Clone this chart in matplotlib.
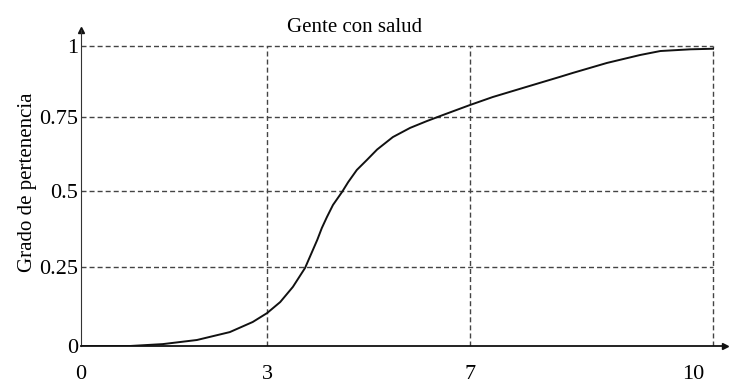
import numpy as np
import matplotlib.pyplot as plt
from matplotlib.transforms import ScaledTranslation

plt.rcParams['font.family'] = ['Liberation Serif', 'DejaVu Serif']

# curve (y = membership grade)
x_vals = [0.0, 0.79, 1.32, 1.87, 2.40, 2.77, 3.0, 3.26, 3.51, 3.75, 3.99,
          4.08, 4.18, 4.30, 4.48, 4.60, 4.77, 4.97, 5.17, 5.48, 5.82, 6.15,
          6.47, 7.0, 7.28, 7.70, 8.11, 8.27, 8.69, 9.10, 9.35, 9.72, 10.0]
y_vals = [0.0, 0.0, 0.006, 0.019, 0.044, 0.076, 0.104, 0.139, 0.187, 0.247,
          0.339, 0.378, 0.414, 0.454, 0.497, 0.530, 0.571, 0.605, 0.640,
          0.682, 0.713, 0.736, 0.757, 0.792, 0.820, 0.856, 0.891, 0.905,
          0.940, 0.968, 0.982, 0.988, 0.99]

x_ticks = [0, 3, 7, 10]
y_ticks = [0, 0.25, 0.5, 0.75, 1]
y_tick_labels = ['0', '0.25', '0.5', '0.75', '1']

# the drawing is not to scale: piecewise-linear axes
xk_val = [-5, 0, 3, 7, 10, 15]
xk_pos = [-310, 0, 186, 389, 632, 1037]
yk_val = [-1, 0, 0.25, 0.5, 0.75, 1, 2]
yk_pos = [-316, 0, 79, 155, 229, 300, 584]


def fx(v):
    return np.interp(v, xk_val, xk_pos)


def fx_inv(p):
    return np.interp(p, xk_pos, xk_val)


def fy(v):
    return np.interp(v, yk_val, yk_pos)


def fy_inv(p):
    return np.interp(p, yk_pos, yk_val)


fig = plt.figure(figsize=(7.37, 3.89), dpi=100)
ax = fig.add_axes([81 / 737, 43 / 389, 644 / 737, 316 / 389])
ax.set_xscale('function', functions=(fx, fx_inv))
ax.set_yscale('function', functions=(fy, fy_inv))
ax.set_xlim(0, 10.148)
ax.set_ylim(0, 1.056)

# dashed guide lines
grid_kw = dict(color='#444444', lw=1.0, dashes=(3.6, 2.2))
for xv in x_ticks[1:]:
    ax.plot([xv, xv], [0, 1], **grid_kw)
for yv in y_ticks[1:]:
    ax.plot([0, 10], [yv, yv], **grid_kw)

ax.plot(x_vals, y_vals, color='#111111', lw=1.4, solid_joinstyle='round')

# axes with arrows
for s in ['top', 'right']:
    ax.spines[s].set_visible(False)
ax.spines['left'].set_color('#333333')
ax.spines['bottom'].set_color('#111111')
ax.spines['bottom'].set_linewidth(1.3)
ax.plot(1, 0, '>', color='#111111', ms=5, transform=ax.transAxes, clip_on=False)
ax.plot(0, 1, '^', color='#111111', ms=5, transform=ax.transAxes, clip_on=False)

ax.set_xticks(x_ticks)
ax.set_xticklabels([str(t) for t in x_ticks])
ax.set_yticks(y_ticks)
ax.set_yticklabels(y_tick_labels)
ax.tick_params(axis='both', length=0, labelsize=16)
ax.tick_params(axis='x', pad=14)
ax.tick_params(axis='y', pad=2)
lbl = ax.get_xticklabels()[-1]
lbl.set_transform(lbl.get_transform() + ScaledTranslation(-0.2, 0, fig.dpi_scale_trans))

fig.text(355 / 737, 1 - 27 / 389, 'Gente con salud', ha='center', va='center', fontsize=15)
fig.text(28 / 737, 1 - 182 / 389, 'Grado de pertenencia', ha='center', va='center',
         rotation=90, fontsize=15)

fig.savefig('out.png', dpi=100)
